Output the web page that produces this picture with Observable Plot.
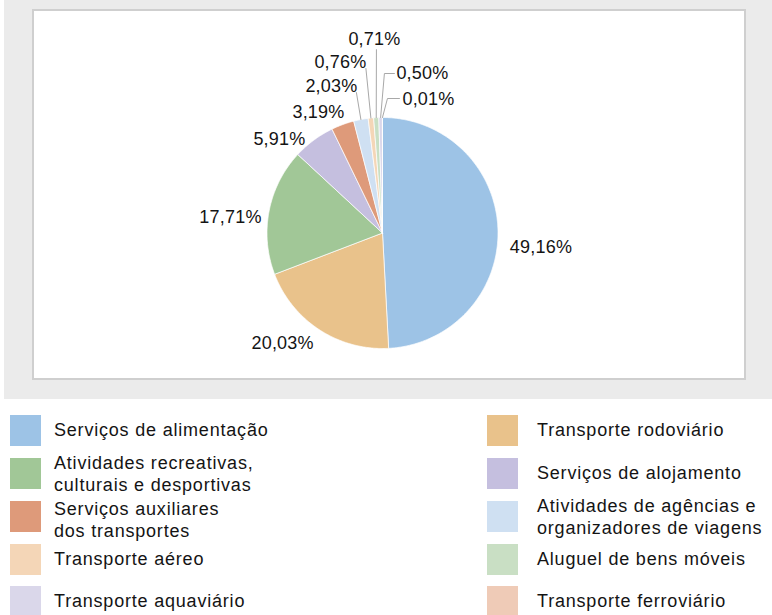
<!DOCTYPE html>
<html><head><meta charset="utf-8">
<script src="https://cdn.jsdelivr.net/npm/d3@7"></script>
<script src="https://cdn.jsdelivr.net/npm/@observablehq/plot@0.6"></script>
<style>
body{margin:0;background:#fff;font-family:"Liberation Sans",Arial,sans-serif;}
#bg{position:absolute;left:4px;top:0;width:768px;height:399px;background:#ebebeb;}
#panel{position:absolute;left:32px;top:9px;width:714px;height:371px;box-sizing:border-box;border:2px solid #cfcfcf;background:#fff;}
#chart{position:absolute;left:34px;top:11px;}
.sw{position:absolute;width:31px;height:31px;}
.lt{position:absolute;height:31px;display:flex;align-items:center;font-size:18px;line-height:21.5px;color:#141414;letter-spacing:0.8px;white-space:pre;}
</style></head>
<body>
<div id="bg"></div><div id="panel"></div><div id="chart"></div><div id="legend"></div>
<script>
// ---- data ----
const categories = [
  "Serviços de alimentação",
  "Transporte rodoviário",
  "Atividades recreativas, culturais e desportivas",
  "Serviços de alojamento",
  "Serviços auxiliares dos transportes",
  "Atividades de agências e organizadores de viagens",
  "Transporte aéreo",
  "Aluguel de bens móveis",
  "Transporte aquaviário",
  "Transporte ferroviário"
];
const shares = [49.16, 20.03, 17.71, 5.91, 3.19, 2.03, 0.76, 0.71, 0.50, 0.01];
const legendLabels = [
  "Serviços de alimentação",
  "Transporte rodoviário",
  "Atividades recreativas,\nculturais e desportivas",
  "Serviços de alojamento",
  "Serviços auxiliares\ndos transportes",
  "Atividades de agências e\norganizadores de viagens",
  "Transporte aéreo",
  "Aluguel de bens móveis",
  "Transporte aquaviário",
  "Transporte ferroviário"
];
const colors = ["#9dc3e6", "#e9c28b", "#a1c797", "#c5bfdf", "#de9a7a", "#cfe0f2", "#f4d6b7", "#c9dfc4", "#dad7ea", "#efcbb7"];

// ---- layout (pixels) ----
const W = 710, H = 367, CX = 348, CY = 221.5, R = 115.5;
// label offsets from slice mid-arc point; leader = bend points (offsets from the same arc point)
const labelLayout = [
  {dx: 43, dy: 17.5},
  {dx: -37, dy: 13.4},
  {dx: -38.6, dy: 6.2},
  {dx: -34.3, dy: -0.7},
  {dx: -24.2, dy: -12.4},
  {dx: -29.5, dy: -33, leader: [[-4.5, -27]]},
  {dx: -30.5, dy: -55.6, leader: [[-5, -49.6]]},
  {dx: -1.8, dy: -78.2, leader: [[0.2, -68]]},
  {dx: 41.8, dy: -44, leader: [[3.8, -44], [13.8, -44]]},
  {dx: 46, dy: -18.7, leader: [[5, -19], [17, -19]]}
];
const legendTextShift = [0, 0, 1, 0, 4, 1, 0, 0, 0, 0];

const fmt = v => v.toFixed(2).replace(".", ",") + "%";
const rows = categories.map((c, i) => ({cat: c, share: shares[i]}));
const arcs = d3.pie().sort(null).value(d => d.share)(rows);

const slicePts = [];
const labelRows = [];
const leaderPts = [];
arcs.forEach((p, i) => {
  const cat = p.data.cat;
  const n = Math.max(2, Math.ceil((p.endAngle - p.startAngle) / 0.01));
  slicePts.push({cat, x: 0, y: 0});
  for (let k = 0; k <= n; k++) {
    const a = p.startAngle + (p.endAngle - p.startAngle) * k / n;
    slicePts.push({cat, x: Math.sin(a), y: Math.cos(a)});
  }
  slicePts.push({cat, x: 0, y: 0});
  const mid = (p.startAngle + p.endAngle) / 2;
  const mx = Math.sin(mid), my = Math.cos(mid);
  const L = labelLayout[i];
  labelRows.push({cat, text: fmt(p.data.share), x: mx + L.dx / R, y: my - L.dy / R});
  if (L.leader) {
    leaderPts.push({cat, x: mx, y: my});
    L.leader.forEach(([ox, oy]) => leaderPts.push({cat, x: mx + ox / R, y: my - oy / R}));
  }
});

const chart = Plot.plot({
  width: W, height: H,
  margin: 0,
  x: {domain: [-CX / R, (W - CX) / R], axis: null},
  y: {domain: [-(H - CY) / R, CY / R], axis: null},
  color: {domain: categories, range: colors},
  style: {background: "transparent", fontFamily: "'Liberation Sans', Arial, sans-serif", letterSpacing: "0.2px"},
  marks: [
    Plot.line(slicePts, {x: "x", y: "y", z: "cat", fill: "cat", stroke: "white", strokeWidth: 0.7, curve: "linear"}),
    Plot.line(leaderPts, {x: "x", y: "y", z: "cat", stroke: "#a8a8a8", strokeWidth: 1, curve: "linear"}),
    Plot.text(labelRows, {x: "x", y: "y", text: "text", fontSize: 18, fill: "#141414", textAnchor: "middle"})
  ]
});
document.getElementById("chart").appendChild(chart);

// ---- legend ----
const legend = document.getElementById("legend");
const colX = [[10, 54], [487, 537]];
const rowTop = [415, 458, 501, 544, 586];
categories.forEach((c, i) => {
  const col = i % 2, row = Math.floor(i / 2);
  const sw = document.createElement("div");
  sw.className = "sw";
  sw.style.left = colX[col][0] + "px";
  sw.style.top = rowTop[row] + "px";
  sw.style.background = colors[i];
  legend.appendChild(sw);
  const t = document.createElement("div");
  t.className = "lt";
  t.style.left = colX[col][1] + "px";
  t.style.top = (rowTop[row] + legendTextShift[i]) + "px";
  t.textContent = legendLabels[i];
  legend.appendChild(t);
});
</script>
</body></html>
